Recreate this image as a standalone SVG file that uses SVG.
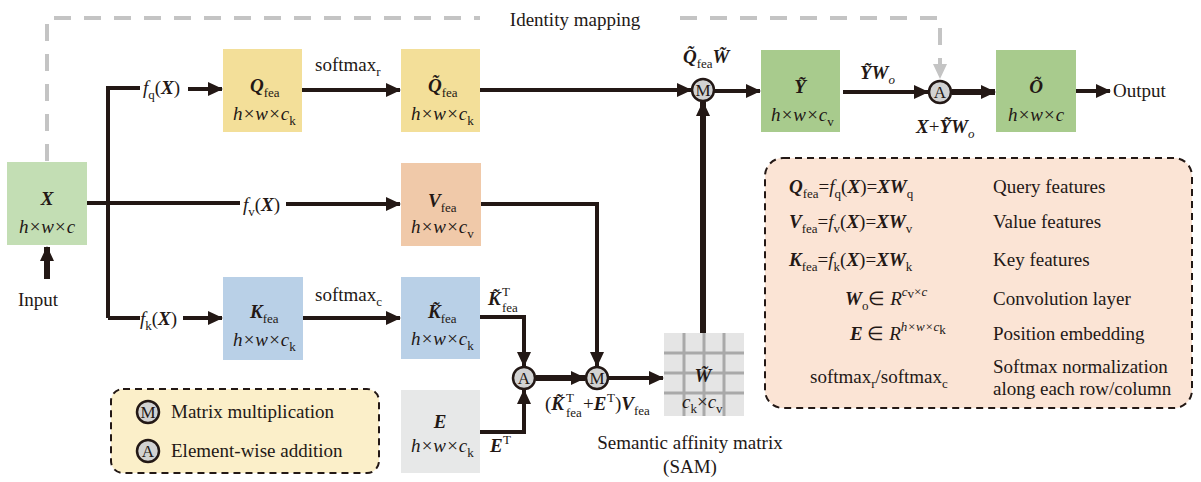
<svg xmlns="http://www.w3.org/2000/svg" width="1201" height="482" viewBox="0 0 1201 482">
<defs>
<style>
text{font-family:"Liberation Serif","Times New Roman",serif;font-size:19px;fill:#231815}
.bi{font-weight:bold;font-style:italic}
.it{font-style:italic}
.sub{font-size:13px;font-style:normal;font-weight:normal}
.subi{font-size:13px;font-style:italic;font-weight:normal}
.mid{text-anchor:middle}
.ln{fill:none;stroke:#231815;stroke-width:4}
.lnt{fill:none;stroke:#231815;stroke-width:6}
.dash{fill:none;stroke:#c4c4c4;stroke-width:4;stroke-dasharray:17 13}
.op{fill:#d2d2d2;stroke:#231815;stroke-width:2.5}
.opt{font-size:17px;text-anchor:middle}
.leg{stroke:#231815;stroke-width:2;stroke-dasharray:7 5}
</style>
<marker id="ah" markerUnits="userSpaceOnUse" markerWidth="15" markerHeight="14" refX="14" refY="7" orient="auto"><path d="M0,0 L15,7 L0,14 Z" fill="#231815"/></marker>
<marker id="ahg" markerUnits="userSpaceOnUse" markerWidth="15" markerHeight="14" refX="14" refY="7" orient="auto"><path d="M0,0 L15,7 L0,14 Z" fill="#c4c4c4"/></marker>
</defs>
<rect width="1201" height="482" fill="#ffffff"/>

<g id="connectors">
<path class="dash" d="M47,161 V18 H480"/>
<path class="dash" d="M680,18 H940 V78" marker-end="url(#ahg)"/>
<path class="lnt" d="M47,279 V247" marker-end="url(#ah)"/>
<path class="ln" d="M108,318 V88 H140"/>
<path class="ln" d="M108,318 H140"/>
<path class="ln" d="M87,203 H240"/>
<path class="ln" d="M188,89 H222" marker-end="url(#ah)"/>
<path class="ln" d="M286,204 H400" marker-end="url(#ah)"/>
<path class="ln" d="M183,318 H222" marker-end="url(#ah)"/>
<path class="ln" d="M302,90 H400" marker-end="url(#ah)"/>
<path class="ln" d="M303,318 H400" marker-end="url(#ah)"/>
<path class="ln" d="M480,90 H691" marker-end="url(#ah)"/>
<path class="ln" d="M714,91 H760" marker-end="url(#ah)"/>
<path class="ln" d="M843,92 H928" marker-end="url(#ah)"/>
<path class="lnt" d="M952,92 H995" marker-end="url(#ah)"/>
<path class="ln" d="M1076,91 H1110" marker-end="url(#ah)"/>
<path class="ln" d="M481,204 H597 V366" marker-end="url(#ah)"/>
<path class="ln" d="M480,317 H524 V366" marker-end="url(#ah)"/>
<path class="ln" d="M480,432 H524 V390" marker-end="url(#ah)"/>
<path class="lnt" d="M536,378 H585" marker-end="url(#ah)"/>
<path class="ln" d="M609,378 H663" marker-end="url(#ah)"/>
<path class="lnt" d="M703,333 V102" marker-end="url(#ah)"/>
</g>

<text x="575" y="26" class="mid">Identity mapping</text>

<g id="node-X">
<rect x="7" y="162" width="80" height="83" fill="#c3deb4"/>
<text x="47" y="205" class="bi mid">X</text>
<text x="47" y="233" class="it mid">h×w×c</text>
</g>
<text x="18" y="306">Input</text>

<g id="label-fq"><text x="143" y="94"><tspan class="it">f</tspan><tspan class="sub" y="99">q</tspan><tspan y="94">(</tspan><tspan class="bi">X</tspan>)</text></g>
<g id="label-fv"><text x="243" y="211"><tspan class="it">f</tspan><tspan class="sub" y="216">v</tspan><tspan y="211">(</tspan><tspan class="bi">X</tspan>)</text></g>
<g id="label-fk"><text x="140" y="325"><tspan class="it">f</tspan><tspan class="sub" y="330">k</tspan><tspan y="325">(</tspan><tspan class="bi">X</tspan>)</text></g>

<g id="node-Q">
<rect x="223" y="49" width="79" height="83" fill="#f3df99"/>
<text x="250" y="92"><tspan class="bi">Q</tspan><tspan class="sub" y="97">fea</tspan></text>
<text x="233" y="120"><tspan class="it">h×w×c</tspan><tspan class="sub" y="125">k</tspan></text>
</g>
<text x="315" y="71">softmax<tspan class="sub" y="76">r</tspan></text>

<g id="node-Qt">
<rect x="401" y="49" width="79" height="83" fill="#f3df99"/>
<text x="428" y="92"><tspan class="bi">Q&#x303;</tspan><tspan class="sub" y="97">fea</tspan></text>
<text x="411" y="120"><tspan class="it">h×w×c</tspan><tspan class="sub" y="125">k</tspan></text>
</g>

<g id="node-V">
<rect x="401" y="163" width="80" height="83" fill="#f0c9a9"/>
<text x="428" y="207"><tspan class="bi">V</tspan><tspan class="sub" y="212">fea</tspan></text>
<text x="411" y="233"><tspan class="it">h×w×c</tspan><tspan class="sub" y="238">v</tspan></text>
</g>

<g id="node-K">
<rect x="223" y="277" width="80" height="83" fill="#b9d0e7"/>
<text x="250" y="318"><tspan class="bi">K</tspan><tspan class="sub" y="323">fea</tspan></text>
<text x="233" y="346"><tspan class="it">h×w×c</tspan><tspan class="sub" y="351">k</tspan></text>
</g>
<text x="315" y="301">softmax<tspan class="sub" y="306">c</tspan></text>

<g id="node-Kt">
<rect x="401" y="277" width="79" height="82" fill="#b9d0e7"/>
<text x="428" y="318"><tspan class="bi">K&#x303;</tspan><tspan class="sub" y="323">fea</tspan></text>
<text x="411" y="345"><tspan class="it">h×w×c</tspan><tspan class="sub" y="350">k</tspan></text>
</g>
<g id="label-KT">
<text x="488" y="305" class="bi">K&#x303;</text>
<text x="502" y="296" class="sub">T</text>
<text x="502" y="312" class="sub">fea</text>
</g>

<g id="node-E">
<rect x="401" y="390" width="79" height="83" fill="#e7e8e8"/>
<text x="440" y="428" class="bi mid">E</text>
<text x="411" y="452"><tspan class="it">h×w×c</tspan><tspan class="sub" y="457">k</tspan></text>
</g>
<g id="label-ET"><text x="490" y="452" class="bi">E</text><text x="503" y="444" class="sub">T</text></g>

<g id="op-A1"><circle cx="524" cy="378" r="11" class="op"/><text x="524" y="384" class="opt">A</text></g>
<g id="op-M1"><circle cx="597" cy="378" r="11" class="op"/><text x="597" y="384" class="opt">M</text></g>

<g id="label-KEV">
<text x="545" y="410">(<tspan class="bi">K&#x303;</tspan></text>
<text x="566" y="402" class="sub">T</text>
<text x="566" y="417" class="sub">fea</text>
<text x="583" y="410">+<tspan class="bi">E</tspan></text>
<text x="607" y="402" class="sub">T</text>
<text x="615" y="410">)<tspan class="bi">V</tspan><tspan class="sub" y="415">fea</tspan></text>
</g>

<g id="node-SAM">
<rect x="664" y="333" width="80" height="83" fill="#e5e5e5"/>
<path d="M684,333 V416 M704,333 V416 M724,333 V416 M664,353 H744 M664,373 H744 M664,393 H744" stroke="#a9a9a9" stroke-width="3" fill="none"/>
<text x="703" y="382" class="bi mid">W&#x303;</text>
<text x="682" y="408"><tspan class="it">c</tspan><tspan class="sub" y="413">k</tspan><tspan y="408">×</tspan><tspan class="it">c</tspan><tspan class="sub" y="413">v</tspan></text>
</g>
<text x="690" y="449" class="mid">Semantic affinity matrix</text>
<text x="690" y="473" class="mid">(SAM)</text>

<g id="op-M2"><circle cx="703" cy="90" r="11" class="op"/><text x="703" y="96" class="opt">M</text></g>
<g id="label-QW">
<text x="683" y="63"><tspan class="bi">Q&#x303;</tspan><tspan class="sub" y="68">fea</tspan><tspan class="bi" y="63">W&#x303;</tspan></text>
</g>

<g id="node-Y">
<rect x="761" y="50" width="79" height="82" fill="#a8cb8d"/>
<text x="800" y="93" class="bi mid">Y&#x303;</text>
<text x="771" y="121"><tspan class="it">h×w×c</tspan><tspan class="sub" y="126">v</tspan></text>
</g>
<g id="label-YW">
<text x="860" y="79"><tspan class="bi">Y&#x303;W</tspan><tspan class="subi" y="84">o</tspan></text>
</g>

<g id="op-A2"><circle cx="940" cy="92" r="11" class="op"/><text x="940" y="98" class="opt">A</text></g>
<g id="label-XYW">
<text x="916" y="133"><tspan class="bi">X</tspan>+<tspan class="bi">Y&#x303;W</tspan><tspan class="subi" y="138">o</tspan></text>
</g>

<g id="node-O">
<rect x="996" y="50" width="80" height="82" fill="#a8cb8d"/>
<text x="1036" y="93" class="bi mid">O&#x303;</text>
<text x="1036" y="121" class="it mid">h×w×c</text>
</g>
<text x="1113" y="97">Output</text>

<g id="legend-ops">
<rect x="111" y="389" width="268" height="84" rx="12" fill="#fbefc9" class="leg"/>
<circle cx="148" cy="412" r="11" class="op"/><text x="148" y="418" class="opt">M</text>
<text x="171" y="418">Matrix multiplication</text>
<circle cx="148" cy="451" r="11" class="op"/><text x="148" y="457" class="opt">A</text>
<text x="171" y="457">Element-wise addition</text>
</g>

<g id="legend-defs">
<rect x="765" y="158" width="427" height="250" rx="18" fill="#fbe4d5" class="leg"/>
<text x="789" y="193"><tspan class="bi">Q</tspan><tspan class="sub" y="198">fea</tspan><tspan y="193">=</tspan><tspan class="it">f</tspan><tspan class="sub" y="198">q</tspan><tspan y="193">(</tspan><tspan class="bi">X</tspan>)=<tspan class="bi">XW</tspan><tspan class="sub" y="198">q</tspan></text>
<text x="789" y="228"><tspan class="bi">V</tspan><tspan class="sub" y="233">fea</tspan><tspan y="228">=</tspan><tspan class="it">f</tspan><tspan class="sub" y="233">v</tspan><tspan y="228">(</tspan><tspan class="bi">X</tspan>)=<tspan class="bi">XW</tspan><tspan class="sub" y="233">v</tspan></text>
<text x="789" y="266"><tspan class="bi">K</tspan><tspan class="sub" y="271">fea</tspan><tspan y="266">=</tspan><tspan class="it">f</tspan><tspan class="sub" y="271">k</tspan><tspan y="266">(</tspan><tspan class="bi">X</tspan>)=<tspan class="bi">XW</tspan><tspan class="sub" y="271">k</tspan></text>
<text x="845" y="305"><tspan class="bi">W</tspan><tspan class="sub" y="310">o</tspan><tspan y="305">∈ </tspan><tspan class="it">R</tspan><tspan class="subi" y="296">c</tspan><tspan class="sub" y="298" font-size="10">v</tspan><tspan class="sub" y="296">×</tspan><tspan class="subi">c</tspan></text>
<text x="850" y="340"><tspan class="bi">E</tspan> ∈ <tspan class="it">R</tspan><tspan class="subi" y="331">h×w×c</tspan><tspan class="sub" y="334" font-size="10">k</tspan></text>
<text x="810" y="383">softmax<tspan class="sub" y="388">r</tspan><tspan y="383">/softmax</tspan><tspan class="sub" y="388">c</tspan></text>
<text x="993" y="193">Query features</text>
<text x="993" y="228">Value features</text>
<text x="993" y="266">Key features</text>
<text x="993" y="305">Convolution layer</text>
<text x="993" y="340">Position embedding</text>
<text x="993" y="373">Softmax normalization</text>
<text x="993" y="395">along each row/column</text>
</g>
</svg>
